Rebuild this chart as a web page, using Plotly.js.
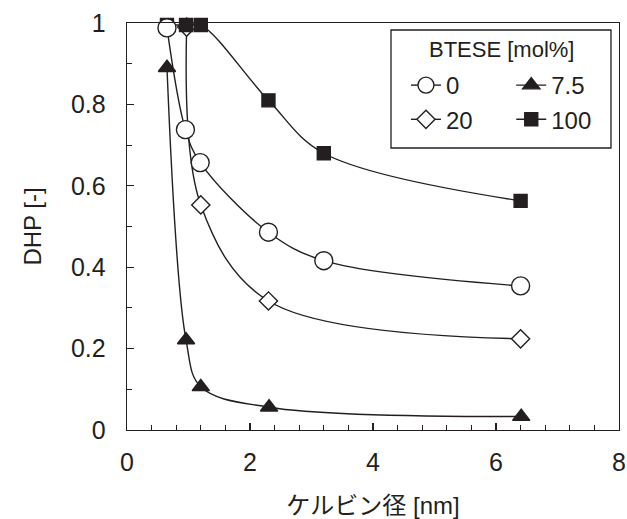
<!DOCTYPE html>
<html>
<head>
<meta charset="utf-8">
<script src="https://cdn.plot.ly/plotly-3.0.1.min.js"></script>
<style>html,body{margin:0;padding:0;background:#fff;}#chart{width:627px;height:519px;}</style>
</head>
<body>
<div id="chart"></div>
<script>
// Data
const seriesNames = ["0", "7.5", "20", "100"];
const legendTitle = "BTESE [mol%]";
const x0 = [0.65, 0.95, 1.19, 2.30, 3.20, 6.40];
const y0 = [0.988, 0.738, 0.657, 0.486, 0.416, 0.354];
const x75 = [0.65, 0.96, 1.20, 2.31, 6.41];
const y75 = [0.89, 0.221, 0.106, 0.056, 0.033];
const x20 = [0.97, 1.20, 2.30, 6.40];
const y20 = [0.99, 0.553, 0.317, 0.224];
const x100 = [0.65, 0.96, 1.20, 2.30, 3.20, 6.40];
const y100 = [0.995, 0.995, 0.995, 0.81, 0.68, 0.563];
const xTickVals = [0, 2, 4, 6, 8];
const yTickVals = [0, 0.2, 0.4, 0.6, 0.8, 1];
const yTickText = ["0", "0.2", "0.4", "0.6", "0.8", "1"];

const FONT = "Liberation Sans, Arial, Noto Sans CJK JP, sans-serif";
const INK = "#231f20";
const lineStyle = {color: INK, width: 1.4, shape: "spline", smoothing: 1};

function trace(name, xs, ys, symbol, size, fill, legendId, rank) {
  return {
    type: "scatter", mode: "lines+markers", name: name, x: xs, y: ys,
    line: lineStyle, legend: legendId, legendrank: rank, legendgroup: name,
    marker: {symbol: symbol, size: size, color: fill, line: {color: INK, width: 1.4}},
    cliponaxis: false
  };
}

const data = [
  trace(seriesNames[2], x20, y20, "diamond", 14, "#ffffff", "legend", 2),
  trace(seriesNames[3], x100, y100, "square", 13, INK, "legend2", 2),
  trace(seriesNames[1], x75, y75, "triangle-up", 15, INK, "legend2", 1),
  trace(seriesNames[0], x0, y0, "circle", 18, "#ffffff", "legend", 1)
];

const axisCommon = {
  showgrid: false, zeroline: false, showline: true, mirror: true,
  linecolor: INK, linewidth: 1.3,
  ticks: "inside", ticklen: 7, tickwidth: 1.2, tickcolor: INK,
  tickfont: {family: FONT, size: 25, color: INK}
};

const legendCommon = {
  xanchor: "left", yanchor: "top", orientation: "v",
  bgcolor: "rgba(0,0,0,0)", borderwidth: 0, tracegroupgap: 17,
  traceorder: "normal", itemwidth: 30,
  font: {family: FONT, size: 24, color: INK}
};

const layout = {
  width: 627, height: 519,
  margin: {l: 127, r: 8, t: 23, b: 89},
  paper_bgcolor: "#fff", plot_bgcolor: "#fff",
  font: {family: FONT, color: INK},
  showlegend: true,
  xaxis: Object.assign({}, axisCommon, {
    range: [0, 8], tickmode: "array", tickvals: xTickVals,
    ticklabelstandoff: 10,
    minor: {dtick: 0.4, ticks: "inside", ticklen: 5, tickwidth: 1.2, tickcolor: INK},
    title: {text: "ケルビン径 [nm]", font: {family: FONT, size: 24, color: INK}, standoff: 26}
  }),
  yaxis: Object.assign({}, axisCommon, {
    range: [0, 1], tickmode: "array", tickvals: yTickVals, ticktext: yTickText,
    ticklabelstandoff: 15,
    minor: {dtick: 0.1, ticks: "inside", ticklen: 5, tickwidth: 1.2, tickcolor: INK},
    title: {text: "DHP [-]", font: {family: FONT, size: 24, color: INK}, standoff: 22}
  }),
  legend: Object.assign({}, legendCommon, {x: 0.567, y: 0.9017}),
  legend2: Object.assign({}, legendCommon, {x: 0.781, y: 0.9017}),
  shapes: [{
    type: "rect", xref: "paper", yref: "paper",
    x0: 0.5366, x1: 0.9837, y0: 0.6929, y1: 0.9828,
    line: {color: INK, width: 1.3}, fillcolor: "rgba(255,255,255,1)", layer: "above"
  }],
  annotations: [{
    text: legendTitle, xref: "paper", yref: "paper", x: 0.762, y: 0.9337,
    xanchor: "center", yanchor: "middle", showarrow: false,
    font: {family: FONT, size: 22, color: INK}
  }]
};

Plotly.newPlot("chart", data, layout, {displayModeBar: false, staticPlot: true});
</script>
</body>
</html>
